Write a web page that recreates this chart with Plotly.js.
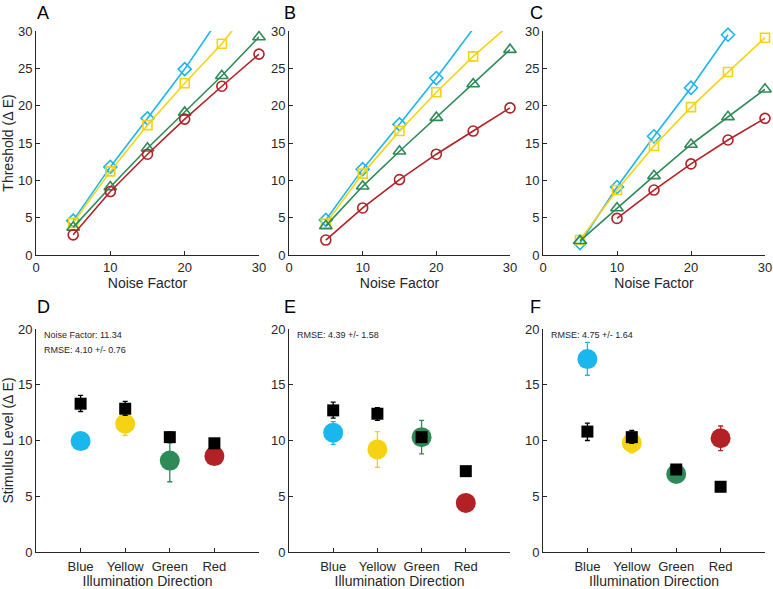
<!DOCTYPE html>
<html>
<head>
<meta charset="utf-8">
<script src="https://cdn.plot.ly/plotly-3.0.1.min.js"></script>
<style>html,body{margin:0;padding:0;background:#fff;}#chart{width:773px;height:589px;}</style>
</head>
<body>
<div id="chart"></div>
<script>
// ---------- data: top panels (threshold vs noise factor) ----------
const noiseFactor = [5, 10, 15, 20, 25, 30];
const seriesNames = ['Blue', 'Yellow', 'Green', 'Red'];
const A_blue   = [4.6, 11.8, 18.3, 24.9, 32.2, null];
const A_yellow = [4.3, 11.2, 17.4, 23.0, 28.3, 34.6];
const A_green  = [3.7, 9.1, 14.3, 19.1, 24.0, 29.2];
const A_red    = [2.7, 8.5, 13.5, 18.2, 22.6, 26.9];
const B_blue   = [4.7, 11.5, 17.5, 23.7, 30.3, null];
const B_yellow = [4.2, 10.9, 16.6, 21.8, 26.6, 30.9];
const B_green  = [3.9, 9.2, 13.9, 18.4, 22.9, 27.5];
const B_red    = [2.0, 6.3, 10.1, 13.5, 16.6, 19.7];
const C_blue   = [1.6, 9.1, 15.9, 22.4, 29.5, null];
const C_yellow = [2.0, 8.7, 14.6, 19.8, 24.5, 29.1];
const C_green  = [1.9, 6.3, 10.6, 14.8, 18.5, 22.2];
const C_red    = [null, 4.9, 8.7, 12.2, 15.4, 18.3];

// ---------- data: bottom panels (stimulus level by illumination direction) ----------
const directions = ['Blue', 'Yellow', 'Green', 'Red'];
// model (coloured circles)
const D_model     = [9.95, 11.5, 8.2, 8.6];
const D_modelErrP = [0.3, 0.6, 1.6, 0.3];
const D_modelErrM = [0.3, 1.05, 1.9, 0.3];
const E_model     = [10.7, 9.2, 10.3, 4.4];
const E_modelErrP = [1.0, 1.6, 1.5, 0.2];
const E_modelErrM = [1.05, 1.6, 1.5, 0.2];
const F_model     = [17.3, 9.8, 7.0, 10.2];
const F_modelErrP = [1.5, 0.6, 0.6, 1.1];
const F_modelErrM = [1.45, 0.9, 0.7, 1.1];
// human data (black squares)
const D_human     = [13.3, 12.85, 10.3, 9.75];
const D_humanErrP = [0.75, 0.65, 0.45, 0.4];
const D_humanErrM = [0.7, 0.6, 0.45, 0.4];
const E_human     = [12.7, 12.4, 10.3, 7.25];
const E_humanErrP = [0.75, 0.55, 0.3, 0.15];
const E_humanErrM = [0.7, 0.6, 0.3, 0.15];
const F_human     = [10.8, 10.3, 7.4, 5.85];
const F_humanErrP = [0.75, 0.6, 0.25, 0.15];
const F_humanErrM = [0.8, 0.55, 0.25, 0.15];

const panelLabels = ['A', 'B', 'C', 'D', 'E', 'F'];
const noteD = ['Noise Factor: 11.34', 'RMSE: 4.10 +/- 0.76'];
const noteE = ['RMSE: 4.39 +/- 1.58'];
const noteF = ['RMSE: 4.75 +/- 1.64'];

// ---------- styling ----------
const colors = {Blue: '#1AB6EE', Yellow: '#F6D312', Green: '#2E8B57', Red: '#B22126'};
const symbols = {Blue: 'diamond-open', Yellow: 'square-open', Green: 'triangle-up-open', Red: 'circle-open'};
const sizes = {Blue: 10, Yellow: 9, Green: 11, Red: 10};
const axisColor = '#262626';
const fontFam = 'Liberation Sans, Arial, sans-serif';

const W = 773, H = 589;
const xDom = [[36 / W, 259 / W], [289 / W, 510 / W], [543 / W, 765 / W]];
const yTop = [1 - 255 / H, 1 - 31 / H];
const yBot = [1 - 552 / H, 1 - 329 / H];

const traces = [];
const topData = [
  [A_blue, A_yellow, A_green, A_red],
  [B_blue, B_yellow, B_green, B_red],
  [C_blue, C_yellow, C_green, C_red]
];
const YMAX_TOP = 30;
topData.forEach((set, p) => {
  const xa = 'x' + (p === 0 ? '' : p + 1);
  const ya = 'y' + (p === 0 ? '' : p + 1);
  set.forEach((ys, k) => {
    const name = seriesNames[k];
    // line (clipped by the axes)
    traces.push({
      x: noiseFactor, y: ys, xaxis: xa, yaxis: ya, type: 'scatter', mode: 'lines',
      line: {color: colors[name], width: 1.6}, hoverinfo: 'skip', showlegend: false
    });
    // markers for points inside the axes (not clipped at edges)
    const mx = [], my = [];
    noiseFactor.forEach((xv, i) => { if (ys[i] !== null && ys[i] <= YMAX_TOP) { mx.push(xv); my.push(ys[i]); } });
    traces.push({
      x: mx, y: my, xaxis: xa, yaxis: ya, type: 'scatter', mode: 'markers', cliponaxis: false,
      marker: {symbol: symbols[name], size: sizes[name], color: colors[name], line: {width: 1.6, color: colors[name]}},
      name: name, showlegend: false
    });
  });
});

const catPos = [1, 2, 3, 4];
const botData = [
  [D_model, D_modelErrP, D_modelErrM, D_human, D_humanErrP, D_humanErrM],
  [E_model, E_modelErrP, E_modelErrM, E_human, E_humanErrP, E_humanErrM],
  [F_model, F_modelErrP, F_modelErrM, F_human, F_humanErrP, F_humanErrM]
];
botData.forEach((d, p) => {
  const xa = 'x' + (p + 4), ya = 'y' + (p + 4);
  directions.forEach((dir, i) => {
    traces.push({
      x: [catPos[i]], y: [d[0][i]], xaxis: xa, yaxis: ya, type: 'scatter', mode: 'markers', cliponaxis: false,
      marker: {symbol: 'circle', size: 20, color: colors[dir], line: {width: 0}},
      error_y: {type: 'data', array: [d[1][i]], arrayminus: [d[2][i]], color: colors[dir], thickness: 1.3, width: 2.5},
      showlegend: false, name: dir
    });
  });
  traces.push({
    x: catPos, y: d[3], xaxis: xa, yaxis: ya, type: 'scatter', mode: 'markers', cliponaxis: false,
    marker: {symbol: 'square', size: 12, color: '#000000', line: {width: 0}},
    error_y: {type: 'data', array: d[4], arrayminus: d[5], color: '#000000', thickness: 1.3, width: 2.5},
    showlegend: false, name: 'Data'
  });
});

const tickFont = {family: fontFam, size: 13, color: axisColor};
const titleFont = {family: fontFam, size: 14, color: axisColor};
function baseAxis(extra) {
  return Object.assign({
    showline: true, linecolor: axisColor, linewidth: 1, mirror: false,
    ticks: 'inside', ticklen: 4, tickwidth: 1, tickcolor: axisColor,
    showgrid: false, zeroline: false, tickfont: tickFont, fixedrange: true
  }, extra);
}

const layout = {
  width: W, height: H, margin: {l: 0, r: 0, t: 0, b: 0},
  paper_bgcolor: '#ffffff', plot_bgcolor: '#ffffff', showlegend: false,
  font: {family: fontFam, color: axisColor},
  annotations: [], 
};
for (let p = 0; p < 3; p++) {
  const sx = p === 0 ? '' : String(p + 1);
  layout['xaxis' + sx] = baseAxis({domain: xDom[p], range: [0, 30], tickvals: [0, 10, 20, 30], anchor: 'y' + sx,
    title: {text: 'Noise Factor', font: titleFont, standoff: 4}});
  layout['yaxis' + sx] = baseAxis({domain: yTop, range: [0, 30], tickvals: [0, 5, 10, 15, 20, 25, 30], anchor: 'x' + sx,
    title: {text: p === 0 ? 'Threshold (Δ E)' : '', font: titleFont, standoff: 4}});
  const bx = String(p + 4);
  layout['xaxis' + bx] = baseAxis({domain: xDom[p], range: [0, 5], tickvals: [0, 1, 2, 3, 4, 5],
    ticktext: [''].concat(directions, ['']), anchor: 'y' + bx, ticklabelstandoff: 2,
    title: {text: 'Illumination Direction', font: titleFont, standoff: 7}});
  layout['yaxis' + bx] = baseAxis({domain: yBot, range: [0, 20], tickvals: [0, 5, 10, 15, 20], anchor: 'x' + bx,
    title: {text: p === 0 ? 'Stimulus Level (Δ E)' : '', font: titleFont, standoff: 4}});
}

// panel letters
const letterX = [35, 282, 528];
panelLabels.forEach((lab, i) => {
  layout.annotations.push({
    text: lab, xref: 'paper', yref: 'paper', x: letterX[i % 3] / W, y: 1 - (i < 3 ? 1 : 295) / H,
    xanchor: 'left', yanchor: 'top', showarrow: false,
    font: {family: fontFam, size: 18, color: '#000000'}
  });
});
// notes in bottom panels
const notes = [noteD, noteE, noteF];
const noteX = [42, 295, 549];
notes.forEach((lines, p) => {
  lines.forEach((t, j) => {
    layout.annotations.push({
      text: t, xref: 'paper', yref: 'paper', x: noteX[p] / W, y: 1 - (335 + j * 15) / H,
      xanchor: 'left', yanchor: 'middle', showarrow: false,
      font: {family: fontFam, size: 9, color: axisColor}
    });
  });
});

Plotly.newPlot('chart', traces, layout, {staticPlot: true, displayModeBar: false});
</script>
</body>
</html>
